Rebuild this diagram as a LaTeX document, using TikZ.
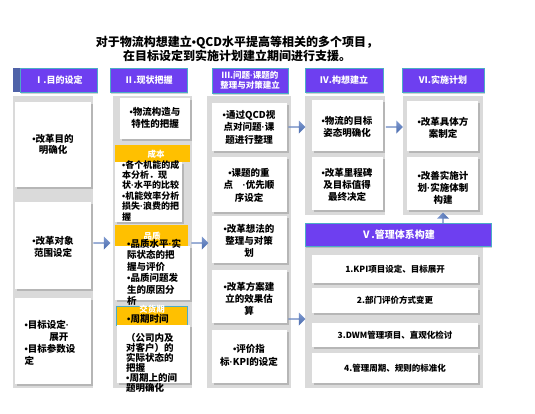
\documentclass[tikz,border=0pt]{standalone}
\usepackage{fontspec}
\setmainfont{Noto Sans CJK SC}
\newfontfamily\latinf{Liberation Sans}
\newcommand\mybul{{\latinf •}}
\newcommand\mydot{{\latinf ·}}
\usetikzlibrary{fit,shadows,shapes.arrows}
\definecolor{hdrpurple}{HTML}{6E3FF0}
\definecolor{hdrteal}{HTML}{4BACC6}
\definecolor{hdrback}{HTML}{4F62A8}
\definecolor{bggray}{HTML}{DADADA}
\definecolor{hdrorange}{HTML}{FFC000}
\definecolor{arrowblue}{HTML}{4A6BAE}
\definecolor{arrowlight}{HTML}{7F9AD0}
\tikzset{
  bgcol/.style={fill=bggray, draw=none, inner sep=0pt},
  hdrbox/.style={fill=hdrpurple, draw=hdrteal, line width=0.9pt, inner sep=0pt,
     drop shadow={shadow xshift=1.2pt, shadow yshift=-1.5pt, opacity=0.35}},
  hdrtxt/.style={text=white, font=\bfseries\fontsize{9}{10.5}\selectfont, align=center, inner sep=0pt},
  card/.style={fill=white, draw=none, inner sep=0pt,
     drop shadow={shadow xshift=1.5pt, shadow yshift=-1.8pt, opacity=0.4}},
  txt/.style={font=\bfseries\fontsize{9.5}{11.8}\selectfont, align=center, inner sep=0pt},
  txtsmall/.style={font=\bfseries\fontsize{9}{10.4}\selectfont, align=left, inner sep=0pt, anchor=north west},
  obox/.style={fill=hdrorange, draw=none, inner sep=0pt},
  otxt/.style={text=white, font=\bfseries\fontsize{8.5}{10}\selectfont, inner sep=0pt},
  blockarrow/.style={single arrow, draw=none, minimum height=17pt, minimum width=13pt,
     single arrow head extend=2pt, single arrow tip angle=90, inner sep=0pt,
     top color=arrowlight, bottom color=arrowblue},
}
\begin{document}
\begin{tikzpicture}[x=1pt,y=-1pt]
\useasboundingbox (0,0) rectangle (535,413);
\fill[white] (0,0) rectangle (535,413);

% title
\node[font=\bfseries\fontsize{12}{14}\selectfont, align=center, inner sep=0pt] (title) at (237,49)
  {对于物流构想建立\mybul QCD水平提高等相关的多个项目，\\在目标设定到实施计划建立期间进行支援。};

% ---------- Column I ----------
\node[bgcol, fit={(13,96)(93,388)}] (bg1) {};
\node[fill=hdrback, inner sep=0pt, fit={(13,68)(92,92)}] (h1b) {};
\node[hdrbox, fit={(20,68)(97,92)}] (h1) {};
\node[hdrtxt] (h1t) at (h1.center) {Ⅰ.目的设定};
\node[card, fit={(15,102)(91,187)}] (c1a) {};
\node[txt] (t1a) at (c1a.center) {\mybul 改革目的\\明确化};
\node[card, fit={(15,202)(91,289)}] (c1b) {};
\node[txt] (t1b) at (53,247) {\mybul 改革对象\\范围设定};
\node[card, fit={(15,298)(91,384)}] (c1c) {};
\node[txt, align=left] (t1c) at (50,343) {\mybul 目标设定\mydot\\\hspace*{2.6em}展开\\\mybul 目标参数设\\定};

% ---------- Column II ----------
\node[bgcol, fit={(113,96)(192,388)}] (bg2) {};
\node[hdrbox, fit={(110,68)(187,92)}] (h2) {};
\node[hdrtxt] (h2t) at (h2.center) {Ⅱ.现状把握};
\node[card, fit={(120,98)(190,139)}] (c2a) {};
\node[txt] (t2a) at (155,118) {\mybul 物流构造与\\特性的把握};

\node[obox, fit={(115,145)(190,162)}] (o1) {};
\node[otxt] (o1t) at (156,154) {成本};
\node[card, fit={(115,162)(182,222)}] (c2b) {};
\node[txtsmall] (t2b) at (122,160) {\mybul 各个机能的成\\本分析．现\\状\mydot 水平的比较\\\mybul 机能效率分析\\损失\mydot 浪费的把\\握};

\node[obox, fit={(115,225)(188,246)}] (o2) {};
\node[otxt] (o2t) at (152,236) {品质};
\node[card, fit={(115,246)(190,300)}] (c2c) {};
\node[txtsmall, font=\bfseries\fontsize{9.5}{11.4}\selectfont] (t2c) at (127,239) {\mybul 品质水平\mydot 实\\际状态的把\\握与评价\\\mybul 品质问题发\\生的原因分\\析};

\node[obox, draw=hdrteal, line width=0.9pt, fit={(116,306)(187,325)}] (o3) {};
\node[card, fit={(117,325)(190,383)}] (c2d) {};
\node[otxt] (o3t) at (152,309) {交货期};
\node[txt, anchor=west] (t2d1) at (127,319) {\mybul 周期时间};
\node[txtsmall, font=\bfseries\fontsize{9.5}{10}\selectfont] (t2d) at (126,333) {（公司内及\\对客户）的\\实际状态的\\把握\\\mybul 周期上的间\\题明确化};

% ---------- Column III ----------
\node[bgcol, fit={(207,96)(291,388)}] (bg3) {};
\node[hdrbox, fit={(212,68)(288,93)}] (h3) {};
\node[hdrtxt, font=\bfseries\fontsize{8.5}{10.5}\selectfont] (h3t) at (h3.center) {Ⅲ.问题\mydot 课题的\\整理与对策建立};
\node[card, fit={(212,103)(287,151)}] (c3a) {};
\node[txt, font=\bfseries\fontsize{9.5}{12.5}\selectfont] (t3a) at (249,127) {\mybul 通过QCD视\\点对问题\mydot 课\\题进行整理};
\node[card, fit={(212,157)(287,212)}] (c3b) {};
\node[txt, font=\bfseries\fontsize{9.5}{12.5}\selectfont] (t3b) at (249,185) {\mybul 课题的重\\点　\mydot 优先顺\\序设定};
\node[card, fit={(212,216)(287,263)}] (c3c) {};
\node[txt, font=\bfseries\fontsize{9.5}{12}\selectfont] (t3c) at (249,241) {\mybul 改革想法的\\整理与对策\\划};
\node[card, fit={(212,270)(287,323)}] (c3d) {};
\node[txt, font=\bfseries\fontsize{9.5}{12}\selectfont] (t3d) at (249,299) {\mybul 改革方案建\\立的效果估\\算};
\node[card, fit={(212,330)(287,383)}] (c3e) {};
\node[txt, font=\bfseries\fontsize{9.5}{13}\selectfont] (t3e) at (249,355) {\mybul 评价指\\标\mydot KPI的设定};

% ---------- Column IV ----------
\node[bgcol, fit={(305,96)(385,215)}] (bg4) {};
\node[hdrbox, fit={(305,68)(383,92)}] (h4) {};
\node[hdrtxt] (h4t) at (h4.center) {Ⅳ.构想建立};
\node[card, fit={(312,100)(383,151)}] (c4a) {};
\node[txt] (t4a) at (347,127) {\mybul 物流的目标\\姿态明确化};
\node[card, fit={(312,157)(383,210)}] (c4b) {};
\node[txt] (t4b) at (347,185) {\mybul 改革里程碑\\及目标值得\\最终决定};

% ---------- Column VI ----------
\node[bgcol, fit={(403,96)(483,215)}] (bg6) {};
\node[hdrbox, fit={(402,68)(484,92)}] (h6) {};
\node[hdrtxt] (h6t) at (h6.center) {Ⅵ.实施计划};
\node[card, fit={(407,101)(478,151)}] (c6a) {};
\node[txt] (t6a) at (443,128) {\mybul 改革具体方\\案制定};
\node[card, fit={(407,157)(478,210)}] (c6b) {};
\node[txt] (t6b) at (443,188) {\mybul 改善实施计\\划\mydot 实施体制\\构建};

% ---------- Column V ----------
\node[bgcol, fit={(305,246)(483,388)}] (bg5) {};
\node[hdrbox, fit={(305,223)(491,246)}] (h5) {};
\node[hdrtxt, font=\bfseries\fontsize{10}{11}\selectfont] (h5t) at (h5.center) {Ⅴ.管理体系构建};
\node[card, fit={(312,255)(478,283)}] (c5a) {};
\node[txt, font=\bfseries\fontsize{8.5}{10}\selectfont] (t5a) at (c5a.center) {1.KPI项目设定、目标展开};
\node[card, fit={(312,288)(478,313)}] (c5b) {};
\node[txt, font=\bfseries\fontsize{8.5}{10}\selectfont] (t5b) at (c5b.center) {2.部门评价方式变更};
\node[card, fit={(312,323)(478,347)}] (c5c) {};
\node[txt, font=\bfseries\fontsize{8.5}{10}\selectfont] (t5c) at (c5c.center) {3.DWM管理项目、直观化检讨};
\node[card, fit={(312,353)(478,383)}] (c5d) {};
\node[txt, font=\bfseries\fontsize{8.5}{10}\selectfont] (t5d) at (c5d.center) {4.管理周期、规则的标准化};

% ---------- Arrows ----------
\node[blockarrow] (a12) at (101.5,243) {};
\node[blockarrow] (a23) at (199.5,243) {};
\node[blockarrow] (a34) at (296.5,127) {};
\node[blockarrow] (a35) at (296.5,319) {};
\node[blockarrow] (a46) at (394,127) {};
\node[blockarrow, shape border rotate=90, minimum height=11pt, minimum width=12pt,
      left color=arrowlight, right color=arrowblue] (a56) at (443,218.5) {};
\end{tikzpicture}
\end{document}
